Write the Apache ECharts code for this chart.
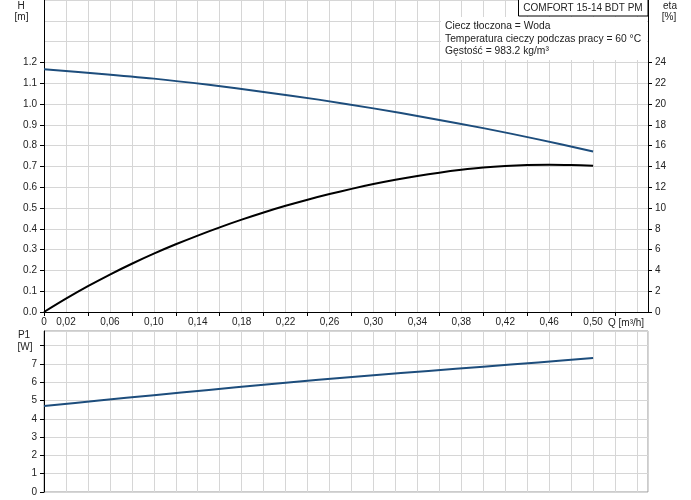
<!DOCTYPE html>
<html>
<head>
<meta charset="utf-8">
<script src="https://cdn.jsdelivr.net/npm/echarts@6.0.0/dist/echarts.min.js"></script>
<style>html,body{margin:0;padding:0;background:#fff}#c{width:691px;height:500px}</style>
</head>
<body>
<div id="c"></div>
<script>
// ---- data ----
const qH = [0, 0.05, 0.10, 0.15, 0.20, 0.25, 0.30, 0.35, 0.40, 0.45, 0.50];
const head = [1.167, 1.146, 1.122, 1.092, 1.058, 1.021, 0.979, 0.933, 0.884, 0.830, 0.772];
const qEta = [0, 0.02, 0.04, 0.06, 0.08, 0.10, 0.12, 0.14, 0.16, 0.18, 0.20, 0.22, 0.24, 0.26, 0.28, 0.30, 0.32, 0.34, 0.36, 0.38, 0.40, 0.42, 0.44, 0.46, 0.48, 0.50];
const eta = [0, 1.28, 2.48, 3.60, 4.64, 5.61, 6.51, 7.35, 8.14, 8.88, 9.57, 10.21, 10.80, 11.34, 11.84, 12.30, 12.71, 13.08, 13.40, 13.67, 13.89, 14.04, 14.13, 14.16, 14.13, 14.06];
const qP = [0, 0.05, 0.10, 0.15, 0.20, 0.25, 0.30, 0.35, 0.40, 0.45, 0.50];
const p1 = [4.70, 5.00, 5.29, 5.58, 5.86, 6.13, 6.38, 6.62, 6.85, 7.08, 7.32];
const xLabelValues = [0, 0.02, 0.06, 0.10, 0.14, 0.18, 0.22, 0.26, 0.30, 0.34, 0.38, 0.42, 0.46, 0.50];
const xTickValues = [0, 0.04, 0.08, 0.12, 0.16, 0.20, 0.24, 0.28, 0.32, 0.36, 0.40, 0.44, 0.48, 0.52];
const hTickValues = [0, 0.1, 0.2, 0.3, 0.4, 0.5, 0.6, 0.7, 0.8, 0.9, 1.0, 1.1, 1.2];
const etaTickValues = [0, 2, 4, 6, 8, 10, 12, 14, 16, 18, 20, 22, 24];
const pTickValues = [0, 1, 2, 3, 4, 5, 6, 7, 8];
const pLabelValues = [0, 1, 2, 3, 4, 5, 6, 7];
const infoLines = ['Ciecz tłoczona = Woda', 'Temperatura cieczy podczas pracy = 60 °C', 'Gęstość = 983.2 kg/m³'];
const title = 'COMFORT 15-14 BDT PM';

const zip = (a, b) => a.map((v, i) => [v, b[i]]);
const FONT = 'Liberation Sans, Arial, sans-serif';
const GRID_C = '#d6d6d6';
const TXT = '#222';
const BLUE = '#1d4d7c';
const has = (arr, v) => arr.some(a => Math.abs(a - v) < 1e-6);
const lbl = {fontFamily: FONT, fontSize: 10, color: TXT};

const chart = echarts.init(document.getElementById('c'), null, {renderer: 'canvas'});
chart.setOption({
  animation: false,
  backgroundColor: '#fff',
  grid: [
    {left: 44, top: 0, width: 604, height: 312, outerBoundsMode: 'none', containLabel: false, show: false},
    {left: 44, top: 331, width: 604, height: 161, outerBoundsMode: 'none', containLabel: false, show: true, borderColor: '#999', borderWidth: 1, backgroundColor: 'transparent'}
  ],
  xAxis: [
    {type: 'value', gridIndex: 0, position: 'bottom', min: 0, max: 0.55, interval: 0.02,
     axisLine: {show: true, onZero: false, lineStyle: {color: '#000', width: 1}},
     axisTick: {show: false},
     splitLine: {show: true, lineStyle: {color: GRID_C, width: 1}},
     axisLabel: Object.assign({}, lbl, {margin: 5, showMaxLabel: false,
       formatter: v => has(xLabelValues, v) ? (Math.abs(v) < 1e-9 ? '0' : v.toFixed(2).replace('.', ',')) : ''})},
    {type: 'value', gridIndex: 0, position: 'bottom', min: 0, max: 0.55,
     axisLine: {show: false, onZero: false},
     axisTick: {show: true, length: 4, customValues: xTickValues, lineStyle: {color: '#000'}},
     splitLine: {show: false}, axisLabel: {show: false}},
    {type: 'value', gridIndex: 1, position: 'bottom', min: 0, max: 0.55, interval: 0.02,
     axisLine: {show: false, onZero: false}, axisTick: {show: false}, axisLabel: {show: false},
     splitLine: {show: true, lineStyle: {color: GRID_C, width: 1}}}
  ],
  yAxis: [
    {type: 'value', gridIndex: 0, position: 'left', min: 0, max: 1.5, interval: 0.1,
     axisLine: {show: true, onZero: false, lineStyle: {color: '#000'}},
     axisTick: {show: false},
     splitLine: {show: true, lineStyle: {color: GRID_C, width: 1}},
     axisLabel: Object.assign({}, lbl, {margin: 7, formatter: v => v <= 1.2 + 1e-9 ? v.toFixed(1) : ''})},
    {type: 'value', gridIndex: 0, position: 'left', min: 0, max: 1.5,
     axisLine: {show: false}, splitLine: {show: false}, axisLabel: {show: false},
     axisTick: {show: true, length: 4, customValues: hTickValues, lineStyle: {color: '#000'}}},
    {type: 'value', gridIndex: 0, position: 'right', min: 0, max: 30, interval: 2,
     axisLine: {show: true, onZero: false, lineStyle: {color: '#000'}},
     axisTick: {show: true, length: 4, customValues: etaTickValues, lineStyle: {color: '#000'}},
     splitLine: {show: false},
     axisLabel: Object.assign({}, lbl, {margin: 7, customValues: etaTickValues, formatter: v => String(v)})},
    {type: 'value', gridIndex: 1, position: 'left', min: 0, max: 8.8, interval: 1,
     axisLine: {show: true, onZero: false, lineStyle: {color: '#000'}},
     axisTick: {show: false},
     splitLine: {show: true, lineStyle: {color: GRID_C, width: 1}},
     axisLabel: Object.assign({}, lbl, {margin: 7, showMaxLabel: false, formatter: v => has(pLabelValues, v) ? String(v) : ''})},
    {type: 'value', gridIndex: 1, position: 'left', min: 0, max: 8.8,
     axisLine: {show: false}, splitLine: {show: false}, axisLabel: {show: false},
     axisTick: {show: true, length: 4, customValues: pTickValues, lineStyle: {color: '#000'}}}
  ],
  series: [
    {name: 'H', type: 'line', xAxisIndex: 0, yAxisIndex: 0, data: zip(qH, head), smooth: 0.3, symbol: 'none',
     lineStyle: {color: BLUE, width: 2}, z: 3},
    {name: 'eta', type: 'line', xAxisIndex: 0, yAxisIndex: 2, data: zip(qEta, eta), smooth: 0.3, symbol: 'none',
     lineStyle: {color: '#000', width: 2}, z: 3},
    {name: 'P1', type: 'line', xAxisIndex: 2, yAxisIndex: 3, data: zip(qP, p1), smooth: 0.3, symbol: 'none',
     lineStyle: {color: BLUE, width: 2}, z: 3}
  ],
  graphic: [
    {type: 'rect', z: 10, shape: {x: 441, y: 17, width: 206, height: 43}, style: {fill: '#fff'}},
    {type: 'rect', z: 11, shape: {x: 518.5, y: -0.5, width: 129.5, height: 16.5}, style: {fill: '#fff', stroke: '#000', lineWidth: 1}},
    {type: 'text', z: 12, x: 583, y: 8, style: {text: title, font: '10px ' + FONT, fill: TXT, align: 'center', verticalAlign: 'middle'}},
    {type: 'text', z: 12, x: 445, y: 26, style: {text: infoLines[0], font: '10.3px ' + FONT, fill: TXT, align: 'left', verticalAlign: 'middle'}},
    {type: 'text', z: 12, x: 445, y: 38.7, style: {text: infoLines[1], font: '10.3px ' + FONT, fill: TXT, align: 'left', verticalAlign: 'middle'}},
    {type: 'text', z: 12, x: 445, y: 51.5, style: {text: infoLines[2], font: '10.3px ' + FONT, fill: TXT, align: 'left', verticalAlign: 'middle'}},
    {type: 'text', z: 12, x: 21, y: 6, style: {text: 'H', font: '10px ' + FONT, fill: TXT, align: 'center', verticalAlign: 'middle'}},
    {type: 'text', z: 12, x: 21.5, y: 17, style: {text: '[m]', font: '10px ' + FONT, fill: TXT, align: 'center', verticalAlign: 'middle'}},
    {type: 'text', z: 12, x: 670, y: 6, style: {text: 'eta', font: '10px ' + FONT, fill: TXT, align: 'center', verticalAlign: 'middle'}},
    {type: 'text', z: 12, x: 669, y: 17, style: {text: '[%]', font: '10px ' + FONT, fill: TXT, align: 'center', verticalAlign: 'middle'}},
    {type: 'text', z: 12, x: 24, y: 335, style: {text: 'P1', font: '10px ' + FONT, fill: TXT, align: 'center', verticalAlign: 'middle'}},
    {type: 'text', z: 12, x: 25, y: 347, style: {text: '[W]', font: '10px ' + FONT, fill: TXT, align: 'center', verticalAlign: 'middle'}},
    {type: 'text', z: 12, x: 608, y: 323, style: {text: 'Q [m³/h]', font: '10px ' + FONT, fill: TXT, align: 'left', verticalAlign: 'middle'}}
  ]
});
</script>
</body>
</html>
